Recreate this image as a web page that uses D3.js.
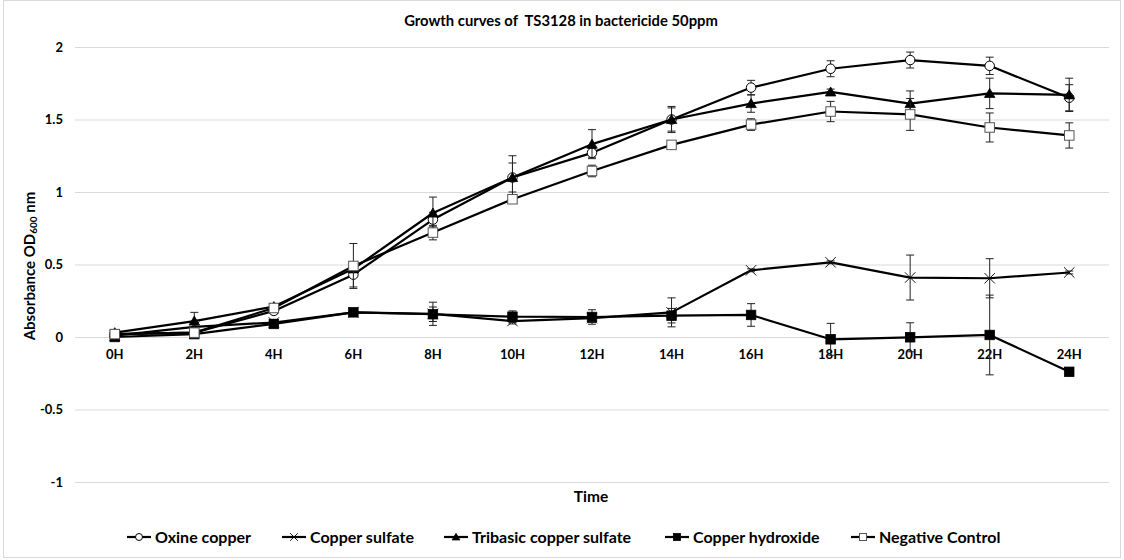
<!DOCTYPE html>
<html>
<head>
<meta charset="utf-8">
<script src="https://cdn.jsdelivr.net/npm/d3@7"></script>
<style>
  html, body { margin: 0; padding: 0; background: #fff; }
  svg { display: block; font-family: Lato, "Open Sans", sans-serif; }
</style>
</head>
<body>
<svg id="chart" width="1124" height="560"></svg>
<script>
// ---------------- DATA ----------------
const categories = ["0H","2H","4H","6H","8H","10H","12H","14H","16H","18H","20H","22H","24H"];
const yTicks = [-1, -0.5, 0, 0.5, 1, 1.5, 2];
const yTickLabels = ["-1", "-0.5", "0", "0.5", "1", "1.5", "2"];

const seriesNames = ["Oxine copper", "Copper sulfate", "Tribasic copper sulfate", "Copper hydroxide", "Negative Control"];
const seriesMarkers = ["circleOpen", "cross", "triangleFilled", "squareFilled", "squareOpen"];

const oxineCopper      = [0.02, 0.03, 0.18, 0.43, 0.81, 1.10, 1.27, 1.50, 1.72, 1.85, 1.91, 1.87, 1.65];
const oxineCopperErr   = [0.02, 0.02, 0.02, 0.085, 0.05, 0.10, 0.03, 0.08, 0.05, 0.055, 0.055, 0.06, 0.09];
const copperSulfate    = [0.01, 0.07, 0.10, 0.17, 0.16, 0.11, 0.13, 0.17, 0.46, 0.515, 0.41, 0.405, 0.445];
const copperSulfateErr = [0.02, 0.02, 0.02, 0.02, 0.08, 0.02, 0.03, 0.10, 0.01, 0.01, 0.155, 0.135, 0.01];
const tribasic         = [0.03, 0.11, 0.21, 0.47, 0.855, 1.10, 1.33, 1.50, 1.61, 1.69, 1.61, 1.68, 1.67];
const tribasicErr      = [0.02, 0.06, 0.02, 0.02, 0.11, 0.15, 0.10, 0.09, 0.06, 0.02, 0.087, 0.105, 0.115];
const copperHydroxide    = [0.00, 0.02, 0.09, 0.17, 0.157, 0.14, 0.138, 0.147, 0.152, -0.016, -0.002, 0.014, -0.24];
const copperHydroxideErr = [0.01, 0.01, 0.02, 0.02, 0.05, 0.04, 0.05, 0.05, 0.078, 0.11, 0.10, 0.275, 0.01];
const negControl       = [0.02, 0.03, 0.20, 0.49, 0.72, 0.95, 1.145, 1.325, 1.465, 1.555, 1.535, 1.445, 1.39];
const negControlErr    = [0.03, 0.02, 0.02, 0.155, 0.05, 0.02, 0.04, 0.02, 0.04, 0.07, 0.11, 0.10, 0.087];

const seriesValues = [oxineCopper, copperSulfate, tribasic, copperHydroxide, negControl];
const seriesErrors = [oxineCopperErr, copperSulfateErr, tribasicErr, copperHydroxideErr, negControlErr];

// ---------------- LAYOUT ----------------
const svg = d3.select("#chart");
const plot = { left: 75, right: 1109, top: 47, bottom: 482 };

// outer border
svg.append("rect").attr("x", 3.5).attr("y", 0.5).attr("width", 1117).attr("height", 557)
  .attr("fill", "#fff").attr("stroke", "#d9d9d9").attr("stroke-width", 1);

const x = d3.scaleBand().domain(categories).range([plot.left, plot.right]).padding(0);
const xc = c => x(c) + x.bandwidth() / 2;
const y = d3.scaleLinear().domain([-1, 2]).range([plot.bottom, plot.top]);

// gridlines + y labels
const yAxis = d3.axisLeft(y).tickValues(yTicks)
  .tickFormat((d, i) => yTickLabels[i])
  .tickSize(-(plot.right - plot.left)).tickPadding(12);
const gy = svg.append("g").attr("transform", `translate(${plot.left},0)`).call(yAxis);
gy.select(".domain").remove();
gy.selectAll(".tick line").attr("stroke", "#d9d9d9").attr("stroke-width", 1);
gy.selectAll(".tick text").attr("fill", "#000").attr("font-size", 13).attr("font-weight", "bold")
  .attr("font-family", "Lato, sans-serif");

// category axis at y=0
const xAxis = d3.axisBottom(x).tickSize(0).tickPadding(13);
const gx = svg.append("g").attr("transform", `translate(0,${y(0)})`).call(xAxis);
gx.select(".domain").remove();
gx.selectAll(".tick text").attr("fill", "#000").attr("font-size", 13).attr("font-weight", "bold")
  .attr("font-family", "Lato, sans-serif");

// title
svg.append("text").attr("x", 561).attr("y", 26).attr("text-anchor", "middle")
  .attr("font-size", 14.8).attr("font-weight", "bold").attr("fill", "#000")
  .attr("xml:space", "preserve")
  .text("Growth curves of  TS3128 in bactericide 50ppm");

// axis titles
svg.append("text").attr("x", 591).attr("y", 502).attr("text-anchor", "middle")
  .attr("font-size", 15.5).attr("font-weight", "bold").text("Time");

const yt = svg.append("text").attr("transform", "translate(35,266) rotate(-90)")
  .attr("text-anchor", "middle").attr("font-size", 15).attr("font-weight", "bold");
yt.append("tspan").text("Absorbance OD");
yt.append("tspan").attr("font-size", 10).attr("dy", 1.5).text("600");
yt.append("tspan").attr("dy", -1.5).text(" nm");

// ---------------- MARKERS ----------------
function drawMarker(g, type, cx, cy, s) {
  const h = s / 2;
  if (type === "circleOpen") {
    g.append("circle").attr("cx", cx).attr("cy", cy).attr("r", h)
      .attr("fill", "#fff").attr("stroke", "#000").attr("stroke-width", 1);
  } else if (type === "cross") {
    const k = h * 1.1;
    g.append("path").attr("d", `M${cx - k},${cy - k}L${cx + k},${cy + k}M${cx - k},${cy + k}L${cx + k},${cy - k}`)
      .attr("stroke", "#000").attr("stroke-width", 0.9).attr("fill", "none");
  } else if (type === "triangleFilled") {
    g.append("path").attr("d", `M${cx},${cy - h * 1.05}L${cx + h * 1.1},${cy + h * 0.85}L${cx - h * 1.1},${cy + h * 0.85}Z`)
      .attr("fill", "#000").attr("stroke", "#000").attr("stroke-width", 0.8);
  } else if (type === "squareFilled") {
    g.append("rect").attr("x", cx - h).attr("y", cy - h).attr("width", s).attr("height", s)
      .attr("fill", "#000").attr("stroke", "#000").attr("stroke-width", 0.8);
  } else if (type === "squareOpen") {
    g.append("rect").attr("x", cx - h).attr("y", cy - h).attr("width", s).attr("height", s)
      .attr("fill", "#fff").attr("stroke", "#555").attr("stroke-width", 1);
  }
}

// ---------------- SERIES ----------------
const line = d3.line().x((d, i) => xc(categories[i])).y(d => y(d));
seriesNames.forEach((name, si) => {
  const vals = seriesValues[si], errs = seriesErrors[si];
  const g = svg.append("g");
  g.append("path").datum(vals).attr("d", line).attr("fill", "none")
    .attr("stroke", "#000").attr("stroke-width", 2.2).attr("stroke-linejoin", "round");
  // error bars
  vals.forEach((v, i) => {
    const cx = xc(categories[i]);
    const y1 = y(v + errs[i]), y2 = y(v - errs[i]);
    g.append("line").attr("x1", cx).attr("x2", cx).attr("y1", y1).attr("y2", y2)
      .attr("stroke", "#222").attr("stroke-width", 1);
    [y1, y2].forEach(yy => g.append("line").attr("x1", cx - 4).attr("x2", cx + 4)
      .attr("y1", yy).attr("y2", yy).attr("stroke", "#222").attr("stroke-width", 1));
  });
  vals.forEach((v, i) => drawMarker(g, seriesMarkers[si], xc(categories[i]), y(v), 9.5));
});

// ---------------- LEGEND ----------------
const legendX = [127, 282, 444, 665, 851];
const legY = 537;
seriesNames.forEach((name, si) => {
  const g = svg.append("g");
  const lx = legendX[si];
  g.append("line").attr("x1", lx).attr("x2", lx + 24).attr("y1", legY).attr("y2", legY)
    .attr("stroke", "#000").attr("stroke-width", 2.2);
  drawMarker(g, seriesMarkers[si], lx + 12, legY, 7);
  g.append("text").attr("x", lx + 28).attr("y", legY + 5.5).attr("font-size", 16)
    .attr("font-weight", "bold").attr("fill", "#000").text(name);
});
</script>
</body>
</html>
